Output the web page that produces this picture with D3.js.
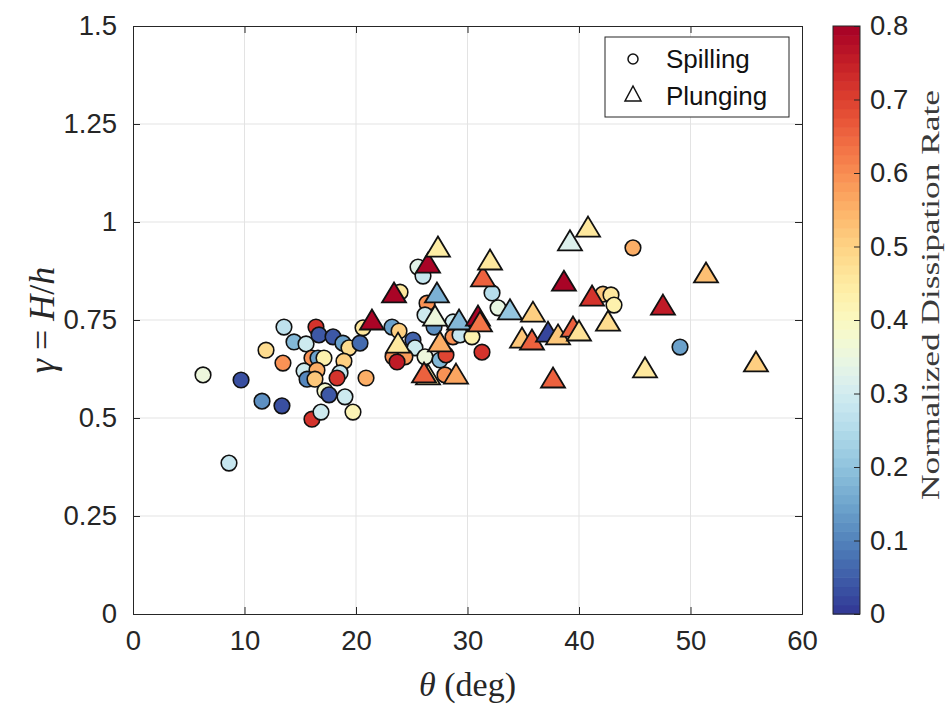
<!DOCTYPE html>
<html><head><meta charset="utf-8">
<script src="https://cdn.jsdelivr.net/npm/d3@7"></script>
<style>body{margin:0;background:#fff}svg{display:block}</style>
</head><body>
<svg id="c" width="948" height="704"></svg>
<script>
// Spilling breakers (circles): theta (deg), gamma = H/h, normalized dissipation rate
const spillTheta = [6.28,9.69,8.61,11.57,13.36,11.93,13.45,13.54,14.44,15.52,16.41,16.68,17.94,18.83,19.37,20.36,20.63,16.05,16.59,17.13,18.92,15.34,16.50,18.57,15.61,16.32,18.30,20.90,17.22,17.58,19.01,19.73,16.05,16.86,23.23,23.86,23.95,25.56,26.01,25.11,25.29,23.32,24.39,23.68,26.19,26.37,26.19,27.0,27.53,28.07,28.70,29.33,30.40,27.98,31.30,32.20,32.74,44.84,42.15,42.87,43.14,49.06,28.70];
const spillGamma = [0.610,0.597,0.385,0.543,0.531,0.673,0.640,0.732,0.694,0.689,0.732,0.712,0.707,0.691,0.679,0.691,0.730,0.653,0.653,0.653,0.645,0.620,0.622,0.615,0.599,0.599,0.602,0.602,0.569,0.559,0.554,0.515,0.497,0.515,0.732,0.722,0.821,0.885,0.862,0.699,0.679,0.656,0.656,0.643,0.656,0.793,0.763,0.732,0.648,0.661,0.707,0.712,0.707,0.610,0.668,0.819,0.781,0.934,0.816,0.814,0.788,0.681,0.745];
const spillRate  = [0.36,0.03,0.28,0.12,0.03,0.48,0.60,0.27,0.18,0.30,0.72,0.04,0.04,0.15,0.48,0.07,0.45,0.60,0.15,0.43,0.50,0.30,0.55,0.28,0.10,0.52,0.72,0.55,0.38,0.04,0.30,0.42,0.72,0.30,0.15,0.50,0.45,0.33,0.28,0.05,0.30,0.60,0.58,0.75,0.36,0.60,0.30,0.12,0.18,0.70,0.60,0.28,0.43,0.60,0.72,0.25,0.35,0.56,0.52,0.45,0.43,0.15,0.30];
// Plunging breakers (triangles)
const plungeTheta = [21.43,23.41,23.77,26.46,27.35,27.26,27.09,27.53,26.46,26.10,28.97,29.24,30.94,31.12,31.39,32.02,33.81,35.87,34.89,35.78,37.22,38.12,37.67,39.19,40.81,38.65,39.46,40.0,41.17,42.60,45.92,47.53,51.39,55.87];
const plungeGamma = [0.750,0.819,0.691,0.895,0.936,0.819,0.760,0.694,0.610,0.615,0.612,0.750,0.760,0.745,0.860,0.903,0.776,0.770,0.704,0.699,0.719,0.712,0.602,0.952,0.987,0.849,0.732,0.722,0.811,0.747,0.628,0.788,0.870,0.643];
const plungeRate  = [0.80,0.80,0.45,0.80,0.44,0.17,0.36,0.56,0.45,0.65,0.57,0.18,0.80,0.63,0.65,0.45,0.20,0.50,0.52,0.65,0.02,0.52,0.65,0.32,0.45,0.80,0.65,0.47,0.72,0.48,0.45,0.76,0.53,0.50];

const xTicks = [0,10,20,30,40,50,60];
const yTicks = [0,0.25,0.5,0.75,1,1.25,1.5];
const yTickLabels = ["0","0.25","0.5","0.75","1","1.25","1.5"];
const cTicks = [0,0.1,0.2,0.3,0.4,0.5,0.6,0.7,0.8];
const legendLabels = ["Spilling","Plunging"];

const svg = d3.select("#c");
const L = 133, R = 802, T = 26, B = 614;
const x = d3.scaleLinear().domain([0,60]).range([L,R]);
const y = d3.scaleLinear().domain([0,1.5]).range([B,T]);
const nLevels = 64;
const color = v => {
  const c = Math.min(0.8, Math.max(0, v));
  const k = Math.min(nLevels - 1, Math.floor(c / 0.8 * nLevels));
  return d3.interpolateRdYlBu(1 - (k + 0.5) / nLevels);
};
const sans = "'Liberation Sans', Arial, Helvetica, sans-serif";
const serif = "'Liberation Serif', 'DejaVu Serif', serif";
const fs = 27.5;

// grid
const g = svg.append("g");
g.selectAll(".gx").data(xTicks.slice(1,-1)).enter().append("line")
  .attr("x1", d=>x(d)).attr("x2", d=>x(d)).attr("y1", T).attr("y2", B)
  .attr("stroke", "#e3e3e3").attr("stroke-width", 1);
g.selectAll(".gy").data(yTicks.slice(1,-1)).enter().append("line")
  .attr("y1", d=>y(d)).attr("y2", d=>y(d)).attr("x1", L).attr("x2", R)
  .attr("stroke", "#e3e3e3").attr("stroke-width", 1);

// axes with d3 axis generators
const axCol = "#262626";
const xAxis = svg.append("g").attr("transform", `translate(0,${B})`)
  .call(d3.axisBottom(x).tickValues(xTicks).tickSize(-7).tickPadding(16).tickFormat(d3.format("d")));
const xAxisTop = svg.append("g").attr("transform", `translate(0,${T})`)
  .call(d3.axisTop(x).tickValues(xTicks).tickSize(-7).tickFormat(""));
const yAxis = svg.append("g").attr("transform", `translate(${L},0)`)
  .call(d3.axisLeft(y).tickValues(yTicks).tickSize(-7).tickPadding(16).tickFormat((d,i)=>yTickLabels[i]));
const yAxisR = svg.append("g").attr("transform", `translate(${R},0)`)
  .call(d3.axisRight(y).tickValues(yTicks).tickSize(-7).tickFormat(""));
[xAxis, xAxisTop, yAxis, yAxisR].forEach(a => {
  a.select(".domain").attr("stroke", axCol).attr("stroke-width", 1);
  a.selectAll(".tick line").attr("stroke", axCol);
  a.selectAll("text").attr("font-family", sans).attr("font-size", fs).attr("fill", "#262626");
});

// markers: circles first, triangles on top
const spill = spillTheta.map((t,i)=>({t, g: spillGamma[i], r: spillRate[i]}));
const plunge = plungeTheta.map((t,i)=>({t, g: plungeGamma[i], r: plungeRate[i]}));
svg.append("g").selectAll("circle").data(spill).enter().append("circle")
  .attr("cx", d=>x(d.t)).attr("cy", d=>y(d.g)).attr("r", 7.8)
  .attr("fill", d=>color(d.r)).attr("stroke", "#111").attr("stroke-width", 1.6);
const tri = (cx, cy) => `M${cx},${cy-10.5}L${cx+12},${cy+9.5}L${cx-12},${cy+9.5}Z`;
svg.append("g").selectAll("path").data(plunge).enter().append("path")
  .attr("d", d=>tri(x(d.t), y(d.g)))
  .attr("fill", d=>color(d.r)).attr("stroke", "#111").attr("stroke-width", 1.8).attr("stroke-linejoin", "miter");

// axis labels
const yl = svg.append("text").attr("transform", `translate(54,${(T+B)/2}) rotate(-90)`)
  .attr("text-anchor", "middle").attr("font-family", serif).attr("font-size", 36).attr("fill", "#262626");
yl.append("tspan").attr("font-style", "italic").text("γ");
yl.append("tspan").text(" = ");
yl.append("tspan").attr("font-style", "italic").text("H");
yl.append("tspan").text("/");
yl.append("tspan").attr("font-style", "italic").text("h");
const xl = svg.append("text").attr("x", (L+R)/2).attr("y", 696)
  .attr("text-anchor", "middle").attr("font-family", serif).attr("font-size", 34).attr("fill", "#262626");
xl.append("tspan").attr("font-style", "italic").text("θ");
xl.append("tspan").text(" (deg)");

// legend
const lg = svg.append("g");
lg.append("rect").attr("x", 605).attr("y", 37).attr("width", 184).attr("height", 80)
  .attr("fill", "#fff").attr("stroke", "#262626").attr("stroke-width", 1);
lg.append("circle").attr("cx", 633).attr("cy", 59).attr("r", 5)
  .attr("fill", "none").attr("stroke", "#111").attr("stroke-width", 1.5);
lg.append("path").attr("d", `M633,${86}L${641},${101}L${625},${101}Z`)
  .attr("fill", "none").attr("stroke", "#111").attr("stroke-width", 1.5);
lg.selectAll("text").data(legendLabels).enter().append("text")
  .attr("x", 666).attr("y", (d,i)=>59 + i*37).attr("dy", "0.36em")
  .attr("font-family", sans).attr("font-size", 26).attr("fill", "#111").text(d=>d);

// colorbar
const cbX = 833, cbW = 27;
const cy = d3.scaleLinear().domain([0,0.8]).range([B,T]);
const levels = d3.range(nLevels);
svg.append("g").selectAll("rect").data(levels).enter().append("rect")
  .attr("x", cbX).attr("width", cbW)
  .attr("y", k=>cy((k+1)*0.8/nLevels)).attr("height", k=>cy(k*0.8/nLevels)-cy((k+1)*0.8/nLevels)+0.6)
  .attr("fill", k=>color((k+0.5)*0.8/nLevels));
svg.append("rect").attr("x", cbX).attr("y", T).attr("width", cbW).attr("height", B-T)
  .attr("fill", "none").attr("stroke", "#262626").attr("stroke-width", 1);
const cAxis = svg.append("g").attr("transform", `translate(${cbX+cbW},0)`)
  .call(d3.axisRight(cy).tickValues(cTicks).tickSize(-6).tickPadding(10).tickFormat(d=>d===0?"0":d3.format(".1f")(d)));
cAxis.select(".domain").remove();
cAxis.selectAll(".tick line").attr("stroke", "#262626");
cAxis.selectAll("text").attr("font-family", sans).attr("font-size", fs).attr("fill", "#262626");
svg.append("text").attr("transform", `translate(939,${(T+B)/2 - 25}) rotate(-90)`)
  .attr("text-anchor", "middle").attr("font-family", serif).attr("font-size", 25).attr("fill", "#3a3a3a")
  .attr("textLength", 410).attr("lengthAdjust", "spacingAndGlyphs")
  .text("Normalized Dissipation Rate");
</script>
</body></html>
